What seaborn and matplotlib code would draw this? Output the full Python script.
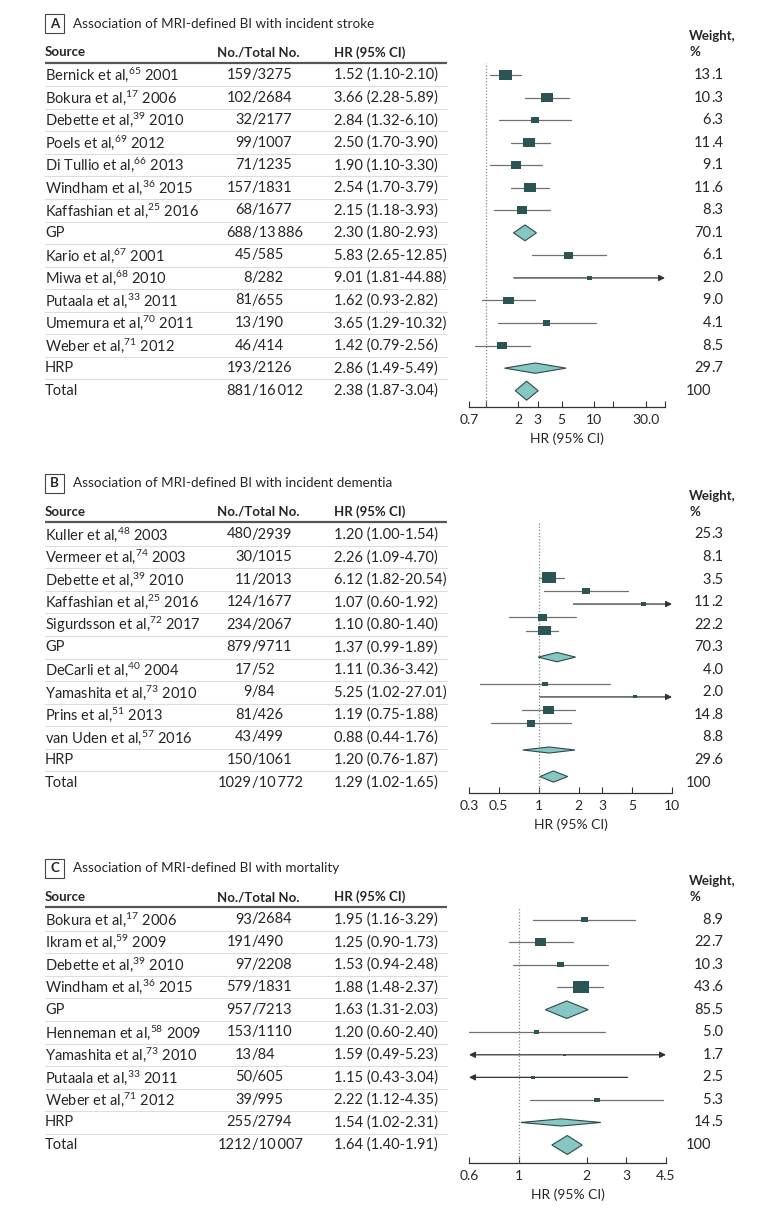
import matplotlib
matplotlib.use("Agg")
import matplotlib.pyplot as plt
from matplotlib.patches import Rectangle
from matplotlib.ticker import NullLocator
import numpy as np
import pandas as pd
import seaborn as sns

# ---------------- data ----------------
# Panel A: incident stroke
a_source = ["Bernick et al,$^{65}$ 2001", "Bokura et al,$^{17}$ 2006", "Debette et al,$^{39}$ 2010",
            "Poels et al,$^{69}$ 2012", "Di Tullio et al,$^{66}$ 2013", "Windham et al,$^{36}$ 2015",
            "Kaffashian et al,$^{25}$ 2016", "GP", "Kario et al,$^{67}$ 2001", "Miwa et al,$^{68}$ 2010",
            "Putaala et al,$^{33}$ 2011", "Umemura et al,$^{70}$ 2011", "Weber et al,$^{71}$ 2012",
            "HRP", "Total"]
a_events = [159, 102, 32, 99, 71, 157, 68, 688, 45, 8, 81, 13, 46, 193, 881]
a_totals = [3275, 2684, 2177, 1007, 1235, 1831, 1677, 13886, 585, 282, 655, 190, 414, 2126, 16012]
a_hr = [1.52, 3.66, 2.84, 2.50, 1.90, 2.54, 2.15, 2.30, 5.83, 9.01, 1.62, 3.65, 1.42, 2.86, 2.38]
a_lo = [1.10, 2.28, 1.32, 1.70, 1.10, 1.70, 1.18, 1.80, 2.65, 1.81, 0.93, 1.29, 0.79, 1.49, 1.87]
a_hi = [2.10, 5.89, 6.10, 3.90, 3.30, 3.79, 3.93, 2.93, 12.85, 44.88, 2.82, 10.32, 2.56, 5.49, 3.04]
a_weight = ["13.1", "10.3", "6.3", "11.4", "9.1", "11.6", "8.3", "70.1", "6.1", "2.0", "9.0", "4.1",
            "8.5", "29.7", "100"]

# Panel B: incident dementia
b_source = ["Kuller et al,$^{48}$ 2003", "Vermeer et al,$^{74}$ 2003", "Debette et al,$^{39}$ 2010",
            "Kaffashian et al,$^{25}$ 2016", "Sigurdsson et al,$^{72}$ 2017", "GP",
            "DeCarli et al,$^{40}$ 2004", "Yamashita et al,$^{73}$ 2010", "Prins et al,$^{51}$ 2013",
            "van Uden et al,$^{57}$ 2016", "HRP", "Total"]
b_events = [480, 30, 11, 124, 234, 879, 17, 9, 81, 43, 150, 1029]
b_totals = [2939, 1015, 2013, 1677, 2067, 9711, 52, 84, 426, 499, 1061, 10772]
b_hr = [1.20, 2.26, 6.12, 1.07, 1.10, 1.37, 1.11, 5.25, 1.19, 0.88, 1.20, 1.29]
b_lo = [1.00, 1.09, 1.82, 0.60, 0.80, 0.99, 0.36, 1.02, 0.75, 0.44, 0.76, 1.02]
b_hi = [1.54, 4.70, 20.54, 1.92, 1.40, 1.89, 3.42, 27.01, 1.88, 1.76, 1.87, 1.65]
b_weight = ["25.3", "8.1", "3.5", "11.2", "22.2", "70.3", "4.0", "2.0", "14.8", "8.8", "29.6", "100"]

# Panel C: mortality
c_source = ["Bokura et al,$^{17}$ 2006", "Ikram et al,$^{59}$ 2009", "Debette et al,$^{39}$ 2010",
            "Windham et al,$^{36}$ 2015", "GP", "Henneman et al,$^{58}$ 2009",
            "Yamashita et al,$^{73}$ 2010", "Putaala et al,$^{33}$ 2011", "Weber et al,$^{71}$ 2012",
            "HRP", "Total"]
c_events = [93, 191, 97, 579, 957, 153, 13, 50, 39, 255, 1212]
c_totals = [2684, 490, 2208, 1831, 7213, 1110, 84, 605, 995, 2794, 10007]
c_hr = [1.95, 1.25, 1.53, 1.88, 1.63, 1.20, 1.59, 1.15, 2.22, 1.54, 1.64]
c_lo = [1.16, 0.90, 0.94, 1.48, 1.31, 0.60, 0.49, 0.43, 1.12, 1.02, 1.40]
c_hi = [3.29, 1.73, 2.48, 2.37, 2.03, 2.40, 5.23, 3.04, 4.35, 2.31, 1.91]
c_weight = ["8.9", "22.7", "10.3", "43.6", "85.5", "5.0", "1.7", "2.5", "5.3", "14.5", "100"]

a_ticks = [0.7, 1, 2, 3, 5, 10, 15, 30, 44.88]
a_ticklabels = ["0.7", "", "2", "3", "5", "10", "", "30.0", ""]
b_ticks = [0.3, 0.5, 1, 2, 3, 5, 10]
b_ticklabels = ["0.3", "0.5", "1", "2", "3", "5", "10"]
c_ticks = [0.6, 1, 2, 3, 4.5]
c_ticklabels = ["0.6", "1", "2", "3", "4.5"]

SUMMARY = ("GP", "HRP", "Total")

# ---------------- style ----------------
sns.set_style("white")
plt.rcParams["font.family"] = ["Lato", "DejaVu Sans"]
plt.rcParams["mathtext.fontset"] = "custom"
plt.rcParams["mathtext.rm"] = "Lato"
plt.rcParams["mathtext.it"] = "Lato:italic"
plt.rcParams["mathtext.bf"] = "Lato:bold"

FS = 10.5        # table rows
FS_HEAD = 9.5    # bold headers
FS_TITLE = 9.7
BOX_COL = "#2b5554"
DIA_COL = "#86c6c3"
LINE_COL = "#707070"
W, H = 780, 1214
DY = 22.55
HR_X = 334

fig = plt.figure(figsize=(W / 100, H / 100), dpi=100)
bg = fig.add_axes([0, 0, 1, 1], zorder=0)
bg.set_xlim(0, W)
bg.set_ylim(H, 0)
bg.axis("off")

rect_marker = [(-1, -0.75), (1, -0.75), (1, 0.75), (-1, 0.75), (-1, -0.75)]


def fmt_total(t):
    if t >= 10000:
        return f"{t // 1000}\u2009{t % 1000:03d}"
    return str(t)


def draw_panel(letter, title, source, events, totals, hr, lo, hi, weight,
               ty, axis_y, x_right, xlim, ticks, ticklabels, box_scale, gapped=False):
    header_y = ty + 29
    hline_y = ty + 39
    row0 = ty + 51.5
    n = len(source)

    # title with boxed letter
    bg.add_patch(Rectangle((45, ty - 9.5), 19, 19, fill=False, edgecolor="#444444", lw=0.8))
    bg.text(54.5, ty, letter, ha="center", va="center", fontsize=FS_HEAD, fontweight="bold")
    bg.text(73, ty, title, ha="left", va="center", fontsize=FS_TITLE)

    # column headers
    bg.text(45, header_y, "Source", ha="left", va="center", fontsize=FS_HEAD, fontweight="bold")
    bg.text(217, header_y, "No./Total No.", ha="left", va="center", fontsize=FS_HEAD, fontweight="bold")
    bg.text(HR_X, header_y, "HR (95% CI)", ha="left", va="center", fontsize=FS_HEAD, fontweight="bold")
    bg.text(689, header_y - 16, "Weight,", ha="left", va="center", fontsize=FS_HEAD, fontweight="bold")
    bg.text(689, header_y, "%", ha="left", va="center", fontsize=FS_HEAD, fontweight="bold")
    bg.plot([45, 447], [hline_y, hline_y], color="#555555", lw=1.6, solid_capstyle="butt")

    for i in range(n):
        y = row0 + i * DY
        bg.text(45, y, source[i], ha="left", va="center", fontsize=FS)
        bg.text(252, y, f"{events[i]}", ha="right", va="center", fontsize=FS)
        bg.text(252, y, f"/{fmt_total(totals[i])}", ha="left", va="center", fontsize=FS)
        bg.text(HR_X, y, f"{hr[i]:.2f} ({lo[i]:.2f}-{hi[i]:.2f})", ha="left", va="center", fontsize=FS)
        whole, _, frac = weight[i].partition(".")
        bg.text(711, y, whole, ha="right", va="center", fontsize=FS)
        if frac:
            bg.text(711, y, "." + frac, ha="left", va="center", fontsize=FS)
        if i < n - 1:
            bg.plot([45, 447], [y + DY / 2, y + DY / 2], color="#dddddd", lw=0.8)

    # mark positions (panel B in the source figure uses a compressed spacing)
    if gapped:
        pos, k, prev = [], 0, False
        for s in source:
            summ = s in SUMMARY
            if summ and not prev:
                k += 1
            pos.append(k)
            k += 1
            if summ:
                k += 1
            prev = summ
        m_y0, m_dy = row0 + 43, 13.27
    else:
        pos = list(range(n))
        m_y0, m_dy = row0, DY

    ax = fig.add_axes([469 / W, 1 - axis_y / H, (x_right - 469) / W, (axis_y - hline_y) / H], zorder=2)
    ax.patch.set_alpha(0)
    ax.set_xscale("log")
    ax.set_xlim(*xlim)
    ax.set_ylim((axis_y - m_y0) / m_dy, (hline_y - m_y0) / m_dy)
    ax.axvline(1, color="#8a8a8a", ls=(0, (1, 1.5)), lw=0.9, zorder=1)

    df = pd.DataFrame({"hr": hr, "lo": lo, "hi": hi, "pos": pos,
                       "w": [float(w) for w in weight], "src": source})
    studies = df[~df["src"].isin(SUMMARY)]
    summaries = df[df["src"].isin(SUMMARY)]

    for _, r in studies.iterrows():
        x0 = max(r["lo"], xlim[0])
        x1 = min(r["hi"], xlim[1])
        left_arrow = r["lo"] < xlim[0]
        right_arrow = r["hi"] >= xlim[1] * 0.999 and r["hi"] > r["hr"] * 3
        if left_arrow or right_arrow:
            style = "<|-|>" if (left_arrow and right_arrow) else ("-|>" if right_arrow else "<|-")
            ax.annotate("", xy=(x1, r["pos"]), xytext=(x0, r["pos"]),
                        arrowprops=dict(arrowstyle=style, color="#333333", lw=0.9,
                                        mutation_scale=9, shrinkA=0, shrinkB=0), zorder=2)
        else:
            ax.plot([x0, x1], [r["pos"], r["pos"]], color=LINE_COL, lw=0.9, zorder=2)

    sns.scatterplot(data=studies, x="hr", y="pos", size="w", sizes=(0, box_scale * 100),
                    size_norm=(0, 100), marker=rect_marker, color=BOX_COL, linewidth=0,
                    legend=False, ax=ax, zorder=3)

    for _, r in summaries.iterrows():
        hh = 0.42 * np.sqrt(r["w"] / 100)
        ax.fill([r["lo"], r["hr"], r["hi"], r["hr"]],
                [r["pos"], r["pos"] - hh, r["pos"], r["pos"] + hh],
                facecolor=DIA_COL, edgecolor="#2e4a4a", lw=0.8, zorder=3)

    for side in ("left", "right", "top"):
        ax.spines[side].set_visible(False)
    ax.spines["bottom"].set_color("#333333")
    ax.spines["bottom"].set_linewidth(0.9)
    ax.set_yticks([])
    ax.set_xticks(ticks)
    ax.set_xticklabels(ticklabels)
    ax.xaxis.set_minor_locator(NullLocator())
    ax.tick_params(axis="x", direction="in", length=4, width=0.8, color="#333333",
                   labelsize=FS - 0.5, pad=5, bottom=True)
    ax.set_xlabel("HR (95% CI)", fontsize=FS - 0.5, labelpad=5)
    ax.set_ylabel("")


draw_panel("A", "Association of MRI-defined BI with incident stroke", a_source, a_events, a_totals,
           a_hr, a_lo, a_hi, a_weight, ty=23.5, axis_y=407, x_right=665, xlim=(0.7, 44.88),
           ticks=a_ticks, ticklabels=a_ticklabels, box_scale=6.5)
draw_panel("B", "Association of MRI-defined BI with incident dementia", b_source, b_events, b_totals,
           b_hr, b_lo, b_hi, b_weight, ty=483, axis_y=793, x_right=672, xlim=(0.3, 10),
           ticks=b_ticks, ticklabels=b_ticklabels, box_scale=4.0, gapped=True)
draw_panel("C", "Association of MRI-defined BI with mortality", c_source, c_events, c_totals,
           c_hr, c_lo, c_hi, c_weight, ty=868, axis_y=1163, x_right=666, xlim=(0.6, 4.5),
           ticks=c_ticks, ticklabels=c_ticklabels, box_scale=3.0)

fig.savefig("out.png", dpi=100)
